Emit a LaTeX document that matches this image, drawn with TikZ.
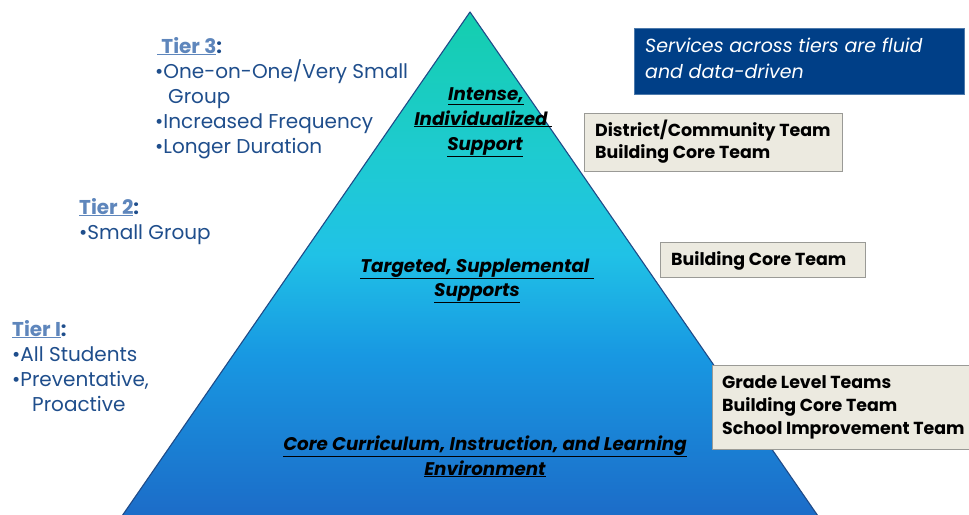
\documentclass[tikz,border=0pt]{standalone}
\usepackage{fontspec}
\setmainfont{Poppins}
\definecolor{pg1}{HTML}{14CEAE}
\definecolor{pg2}{HTML}{1ECBD0}
\definecolor{pg3}{HTML}{20C2E6}
\definecolor{pg4}{HTML}{1898E2}
\definecolor{pg5}{HTML}{1C6CC8}
\definecolor{pyredge}{HTML}{1F4A88}
\definecolor{tierd}{HTML}{1F4E8C}
\definecolor{tierl}{HTML}{5E86BC}
\definecolor{navy}{HTML}{003F87}
\definecolor{beige}{HTML}{ECEAE0}
\definecolor{beigeedge}{HTML}{9A9A96}
\pgfdeclareverticalshading{pyrshade}{100bp}{color(0bp)=(pg5); color(25bp)=(pg5); color(41bp)=(pg4); color(51bp)=(pg3); color(61bp)=(pg2); color(75bp)=(pg1); color(100bp)=(pg1)}
\begin{document}
\begin{tikzpicture}[x=1pt,y=-1pt,
  tiertxt/.style={anchor=base west,inner sep=0pt,text=tierd,font=\fontsize{20}{22}\selectfont},
  pyrtxt/.style={anchor=base,inner sep=0pt,text=black,font=\fontsize{18.3}{20}\selectfont\bfseries\itshape},
  teamtxt/.style={anchor=base west,inner sep=0pt,text=black,font=\fontsize{17.4}{19}\selectfont\bfseries},
  teambox/.style={draw=beigeedge,fill=beige,line width=0.8pt},
  svcbox/.style={draw=navy!70,fill=navy,line width=0.8pt},
  svctxt/.style={anchor=base west,inner sep=0pt,text=white,font=\fontsize{19}{21}\selectfont\itshape}]
\useasboundingbox (0,0) rectangle (969,514);
\fill[white] (0,0) rectangle (969,514);
% pyramid
\begin{scope}
\clip (0,0) rectangle (969,514);
\shade[shading=pyrshade] (470,12) -- (818,516) -- (122,516) -- cycle;
\draw[pyredge,line width=1.1pt,line join=round] (122,516) -- (470,12) -- (818,516);
\end{scope}
% pyramid labels
\node[pyrtxt] (p3a) at (486,100) {\underline{Intense,}};
\node[pyrtxt] (p3b) at (483,125) {\underline{Individualized\ }};
\node[pyrtxt] (p3c) at (485,150) {\underline{Support}};
\node[pyrtxt] (p2a) at (477,272) {\underline{Targeted, Supplemental\ }};
\node[pyrtxt] (p2b) at (477,296) {\underline{Supports}};
\node[pyrtxt] (p1a) at (485,450) {\underline{Core Curriculum, Instruction, and Learning}};
\node[pyrtxt] (p1b) at (485,475) {\underline{Environment}};
% tier texts
\node[tiertxt] (t3) at (157,53) {\bfseries{\color{tierl}\underline{\ Tier 3}}:};
\node[tiertxt] (t3a) at (155,78) {\textbullet One-on-One/Very Small};
\node[tiertxt] (t3b) at (168,103) {Group};
\node[tiertxt] (t3c) at (155,128) {\textbullet Increased Frequency};
\node[tiertxt] (t3d) at (155,153) {\textbullet Longer Duration};
\node[tiertxt] (t2) at (79,214) {\bfseries{\color{tierl}\underline{Tier 2}}:};
\node[tiertxt] (t2a) at (79,239) {\textbullet Small Group};
\node[tiertxt] (t1) at (12,336) {\bfseries{\color{tierl}\underline{Tier I}}:};
\node[tiertxt] (t1a) at (12,361) {\textbullet All Students};
\node[tiertxt] (t1b) at (12,386) {\textbullet Preventative,};
\node[tiertxt] (t1c) at (32,411) {Proactive};
% services box
\draw[svcbox] (634,28) rectangle (964,94);
\node[svctxt] (s1) at (645,52) {Services across tiers are fluid};
\node[svctxt] (s2) at (645,78) {and data-driven};
% team boxes
\draw[teambox] (584,113) rectangle (842,171);
\node[teamtxt] (b1a) at (595,136) {District/Community Team};
\node[teamtxt] (b1b) at (595,158) {Building Core Team};
\draw[teambox] (660,242) rectangle (865,277);
\node[teamtxt] (b2a) at (671,265) {Building Core Team};
\draw[teambox] (712,365) rectangle (975,449);
\node[teamtxt] (b3a) at (722,388) {Grade Level Teams};
\node[teamtxt] (b3b) at (722,411) {Building Core Team};
\node[teamtxt] (b3c) at (722,434) {School Improvement Team};
\end{tikzpicture}
\end{document}
